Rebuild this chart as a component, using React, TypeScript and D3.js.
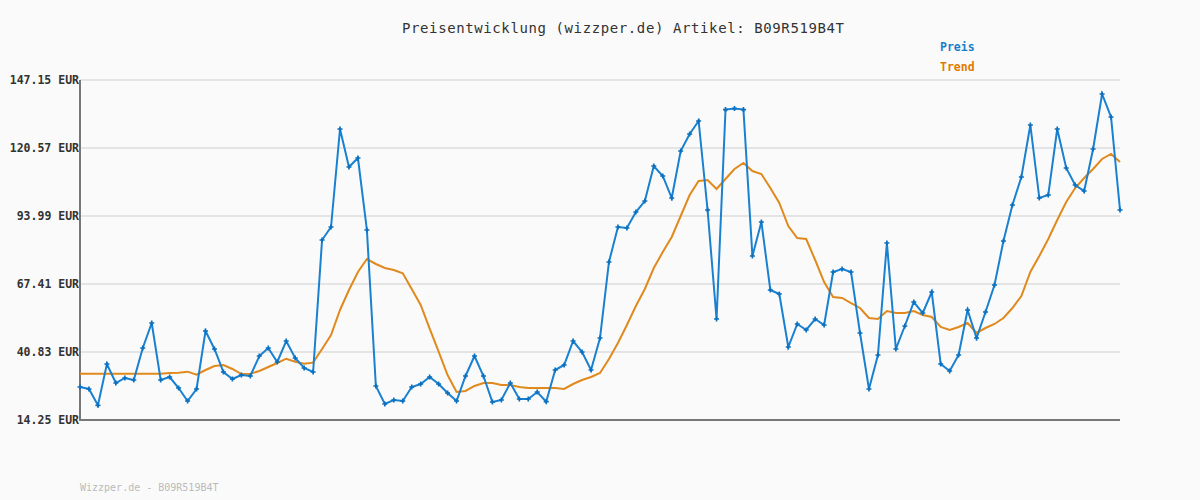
import * as d3 from "d3";

const title = "Preisentwicklung (wizzper.de) Artikel: B09R519B4T";
const footer = "Wizzper.de - B09R519B4T";
const yTicks = [14.25, 40.83, 67.41, 93.99, 120.57, 147.15];

const price = [
  27.15, 26.37, 20.0, 36.14, 28.71, 30.67, 29.89, 42.39, 52.17, 29.89,
  31.06, 26.76, 21.68, 26.37, 49.04, 42.0, 33.01, 30.28, 31.84, 31.45,
  39.27, 42.39, 36.92, 45.13, 38.48, 34.58, 33.01, 84.61, 89.69, 127.99,
  113.14, 116.66, 88.52, 27.54, 20.5, 22.07, 21.68, 27.15, 28.32, 31.06,
  28.32, 24.8, 21.68, 31.45, 39.27, 31.45, 21.29, 22.07, 28.71, 22.46,
  22.46, 25.19, 21.4, 33.79, 35.75, 45.13, 40.83, 33.79, 46.3, 76.01,
  89.69, 89.3, 95.55, 99.85, 113.53, 109.63, 101.02, 119.4, 126.04, 131.13,
  96.34, 53.73, 135.59, 136.0, 135.59, 78.35, 91.65, 65.07, 63.5, 42.78,
  51.78, 49.43, 53.73, 51.38, 72.1, 73.27, 72.1, 48.26, 26.37, 39.66,
  83.44, 42.0, 50.99, 60.37, 56.07, 64.28, 36.14, 33.4, 39.66, 57.25,
  46.3, 56.47, 67.02, 84.22, 98.29, 109.24, 129.56, 101.02, 102.2, 128.01,
  112.75, 106.1, 103.76, 120.18, 141.68, 132.69, 96.34,
];

const trend = [
  32.36, 32.36, 32.36, 32.36, 32.36, 32.36, 32.36, 32.36, 32.36, 32.36,
  32.62, 32.75, 33.14, 31.97, 33.79, 35.36, 35.75, 34.19, 32.23, 32.36,
  33.4, 34.97, 36.53, 38.21, 37.05, 36.27, 36.66, 42.0, 47.47, 57.25,
  65.07, 72.1, 77.18, 75.23, 73.66, 72.88, 71.58, 65.46, 59.2, 49.95,
  40.96, 31.84, 25.19, 25.59, 27.54, 28.71, 28.71, 27.93, 27.93, 27.15,
  26.76, 26.76, 26.76, 26.76, 26.37, 28.32, 29.89, 31.06, 32.62, 38.09,
  44.35, 51.38, 58.81, 65.46, 73.66, 79.92, 85.78, 93.99, 102.2, 107.67,
  108.06, 104.54, 108.45, 112.36, 114.71, 111.58, 110.41, 104.93, 99.07, 90.08,
  85.39, 85.0, 76.79, 68.19, 62.33, 61.94, 59.98, 58.03, 54.12, 53.73,
  56.86, 56.07, 56.07, 56.86, 55.29, 54.51, 50.6, 49.43, 50.6, 52.17,
  48.26, 50.21, 51.78, 54.12, 58.03, 62.72, 72.1, 78.35, 85.0, 92.43,
  99.46, 104.93, 108.84, 112.36, 116.27, 118.23, 115.1,
];

const W = 1200;
const H = 500;
const left = 80;
const right = 1120;
const top = 80;
const bottom = 420;
const mono = "'DejaVu Sans Mono', monospace";

export default function App() {
  const x = d3.scaleLinear().domain([0, price.length - 1]).range([left, right]);
  const y = d3.scaleLinear().domain([14.25, 147.15]).range([bottom, top]);

  const line = d3
    .line<number>()
    .x((_, i) => x(i))
    .y((d) => y(d));

  const marker = d3.symbol(d3.symbolCross, 14)() ?? "";

  return (
    <svg
      width={W}
      height={H}
      style={{ position: "absolute", left: 0, top: 0, background: "#fafafa" }}
    >
      <rect width={W} height={H} fill="#fafafa" />
      <text
        x={623}
        y={33}
        textAnchor="middle"
        fontFamily={mono}
        fontSize={14}
        textLength={442}
        fill="#333"
      >
        {title}
      </text>
      <text x={940} y={51} fontFamily={mono} fontSize={11.5} fontWeight="bold" fill="#1a7fc9">
        Preis
      </text>
      <text x={940} y={71} fontFamily={mono} fontSize={11.5} fontWeight="bold" fill="#e07b00">
        Trend
      </text>

      {yTicks.map((t) => (
        <g key={t}>
          {t !== yTicks[0] && (
            <line x1={left} x2={right} y1={y(t)} y2={y(t)} stroke="#e4e4e4" strokeWidth={2} />
          )}
          <text
            x={left - 1}
            y={y(t) + 4}
            textAnchor="end"
            fontFamily={mono}
            fontSize={11.5}
            fontWeight="bold"
            fill="#333"
          >
            {t.toFixed(2) + " EUR"}
          </text>
        </g>
      ))}

      <line x1={left} x2={left} y1={top} y2={bottom + 1} stroke="#777" strokeWidth={2} />
      <line x1={left} x2={right} y1={bottom} y2={bottom} stroke="#777" strokeWidth={2} />

      <path d={line(trend) ?? ""} fill="none" stroke="#e08a1e" strokeWidth={2} />
      <path d={line(price) ?? ""} fill="none" stroke="#1a80d0" strokeWidth={2} />
      {price.map((d, i) => (
        <path key={i} d={marker} transform={`translate(${x(i)},${y(d)})`} fill="#0a6fbf" />
      ))}

      <text x={80} y={491} fontFamily={mono} fontSize={10} fill="#bbb">
        {footer}
      </text>
    </svg>
  );
}
